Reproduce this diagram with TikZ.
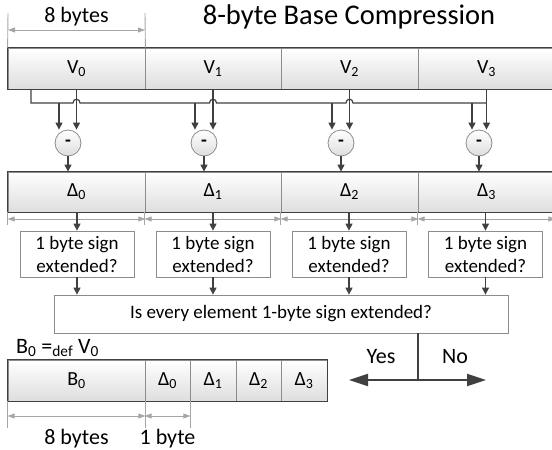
\documentclass[tikz,border=0pt]{standalone}
\usepackage{fontspec}
\setmainfont{Carlito}
\usetikzlibrary{arrows.meta}
\definecolor{ink}{HTML}{404040}
\definecolor{rulec}{HTML}{8C8C8C}
\definecolor{dimc}{HTML}{A6A6A6}

\begin{document}
\begin{tikzpicture}[x=1pt,y=-1pt,
  cell/.style={rectangle, draw=rulec, line width=0.8pt, top color=white, bottom color=black!13,
    inner sep=0pt, font=\fontsize{20}{24}\selectfont},
  frame/.style={draw=ink, line width=1.7pt},
  minus/.style={circle, draw=rulec, line width=0.8pt, top color=white, bottom color=black!13,
    minimum size=26, inner sep=0pt, font=\fontsize{19}{20}\selectfont\bfseries},
  qbox/.style={rectangle, draw=rulec, line width=0.8pt, fill=white, align=center, inner sep=0pt,
    font=\fontsize{19}{23}\selectfont},
  arr/.style={draw=ink, line width=1.2pt, -{Triangle[length=7pt,width=7pt]}},
  wire/.style={draw=ink, line width=1.2pt},
  dimarr/.style={draw=dimc, line width=0.9pt, {Triangle[length=7pt,width=5pt]}-{Triangle[length=7pt,width=5pt]}},
  dimline/.style={draw=dimc, line width=0.9pt},
  bigarr/.style={draw=ink, line width=2pt, -{Triangle[length=19pt,width=12pt]}},
  lbl/.style={inner sep=0pt, font=\fontsize{22}{26}\selectfont},
]
\useasboundingbox (0,0) rectangle (552,450);

% title and width of one value
\node[lbl, font=\fontsize{28.5}{32}\selectfont] (title) at (349,17) {8-byte Base Compression};

% row of values
\node[cell, minimum width=137, minimum height=41] (v0) at (76.5,68.5) {V\textsubscript{0}};
\node[cell, minimum width=136, minimum height=41] (v1) at (213,68.5) {V\textsubscript{1}};
\node[cell, minimum width=137, minimum height=41] (v2) at (349.5,68.5) {V\textsubscript{2}};
\node[cell, minimum width=137, minimum height=41] (v3) at (486.5,68.5) {V\textsubscript{3}};
\draw[frame] (v0.north west) rectangle (v3.south east);

\coordinate (topA) at (8,13);
\coordinate (topB) at (145,13);
\coordinate (topy) at (0,30);
\draw[dimline] (v0.north west) -- (topA);
\draw[dimline] (v0.north east) -- (topB);
\draw[dimarr] (topA |- topy) -- (topB |- topy);
\node[lbl] (w8) at (76.5,17) {8 bytes};

% subtractors
\node[minus] (m0) at (68,143) {-};
\node[minus] (m1) at (204,143) {-};
\node[minus] (m2) at (341,143) {-};
\node[minus] (m3) at (479,143) {-};

% base bus, hopping over the value lines
\coordinate (busL) at (31,103);
\coordinate (busR) at (v3.south |- busL);
\draw[wire] (busL |- v0.south) -- (busL)
  -- (73,103) .. controls (73,98) and (80,98) .. (80,103)
  -- (209.5,103) .. controls (209.5,98) and (216.5,98) .. (216.5,103)
  -- (346,103) .. controls (346,98) and (353,98) .. (353,103)
  -- (busR);
\draw[wire] (v3.south) -- (busR);

\coordinate (s0) at (59,103);
\coordinate (s1) at (195,103);
\coordinate (s2) at (332,103);
\coordinate (s3) at (472,103);
\foreach \i in {0,1,2,3} {
  \draw[arr] (s\i) -- (s\i |- m\i.north);
}
\draw[arr] (v0.south) -- (v0.south |- m0.north);
\draw[arr] (v1.south) -- (v1.south |- m1.north);
\draw[arr] (v2.south) -- (v2.south |- m2.north);
\draw[arr] (busR) -- (busR |- m3.north);

% row of deltas
\node[cell, minimum width=137, minimum height=40] (d0) at (76.5,192) {Δ\textsubscript{0}};
\node[cell, minimum width=136, minimum height=40] (d1) at (213,192) {Δ\textsubscript{1}};
\node[cell, minimum width=137, minimum height=40] (d2) at (349.5,192) {Δ\textsubscript{2}};
\node[cell, minimum width=137, minimum height=40] (d3) at (486.5,192) {Δ\textsubscript{3}};
\draw[frame] (d0.north west) rectangle (d3.south east);

\foreach \i in {0,1,2,3} {
  \draw[arr] (m\i.south) -- (m\i.south |- d\i.north);
}

% widths of the deltas
\coordinate (dy) at (0,219);
\coordinate (dt) at (0,225);
\foreach \i in {0,1,2,3} {
  \draw[dimline] (d\i.south west) -- (d\i.south west |- dt);
  \draw[dimarr] (d\i.south west |- dy) -- (d\i.south east |- dy);
}

% sign-extension checks
\node[qbox, minimum width=114, minimum height=46] (q0) at (77,254) {1 byte sign\\extended?};
\node[qbox, minimum width=114, minimum height=46] (q1) at (213,254) {1 byte sign\\extended?};
\node[qbox, minimum width=114, minimum height=46] (q2) at (349,254) {1 byte sign\\extended?};
\node[qbox, minimum width=114, minimum height=46] (q3) at (485.5,254) {1 byte sign\\extended?};

\node[qbox, minimum width=454, minimum height=38] (all) at (281,314) {Is every element 1-byte sign extended?};

\draw[arr] (d0.south -| q0.north) -- (q0.north);
\draw[arr] (d1.south -| q1.north) -- (q1.north);
\draw[arr] (d2.south -| q2.north) -- (q2.north);
\draw[arr] (d3.south -| q3.north) -- (q3.north);
\foreach \i in {0,1,2,3} {
  \draw[arr] (q\i.south) -- (q\i.south |- all.north);
}

% decision
\coordinate (fork) at (418,380);
\coordinate (yesend) at (349,380);
\coordinate (noend) at (486,380);
\draw[wire, line width=2pt] (all.south -| fork) -- (fork);
\draw[bigarr] (fork) -- (yesend);
\draw[bigarr] (fork) -- (noend);
\node[lbl] (yes) at (381,357) {Yes};
\node[lbl] (no) at (455,357) {No};

% compressed line
\node[lbl, anchor=west] (bdef) at (16,348) {B\textsubscript{0} =\textsubscript{def} V\textsubscript{0}};
\node[cell, minimum width=137, minimum height=41] (b0) at (76.5,380.5) {B\textsubscript{0}};
\node[cell, minimum width=45, minimum height=41] (e0) at (167.5,380.5) {Δ\textsubscript{0}};
\node[cell, minimum width=46, minimum height=41] (e1) at (213,380.5) {Δ\textsubscript{1}};
\node[cell, minimum width=45, minimum height=41] (e2) at (258.5,380.5) {Δ\textsubscript{2}};
\node[cell, minimum width=46, minimum height=41] (e3) at (304,380.5) {Δ\textsubscript{3}};
\draw[frame] (b0.north west) rectangle (e3.south east);

\coordinate (by) at (0,416);
\coordinate (bt) at (0,428);
\draw[dimline] (b0.south west) -- (b0.south west |- bt);
\draw[dimline] (b0.south east) -- (b0.south east |- bt);
\draw[dimline] (e0.south east) -- (e0.south east |- bt);
\draw[dimarr] (b0.south west |- by) -- (b0.south east |- by);
\draw[dimarr] (e0.south west |- by) -- (e0.south east |- by);
\node[lbl] (w8b) at (76.5,439) {8 bytes};
\node[lbl] (w1b) at (167.5,439) {1 byte};
\end{tikzpicture}
\end{document}
